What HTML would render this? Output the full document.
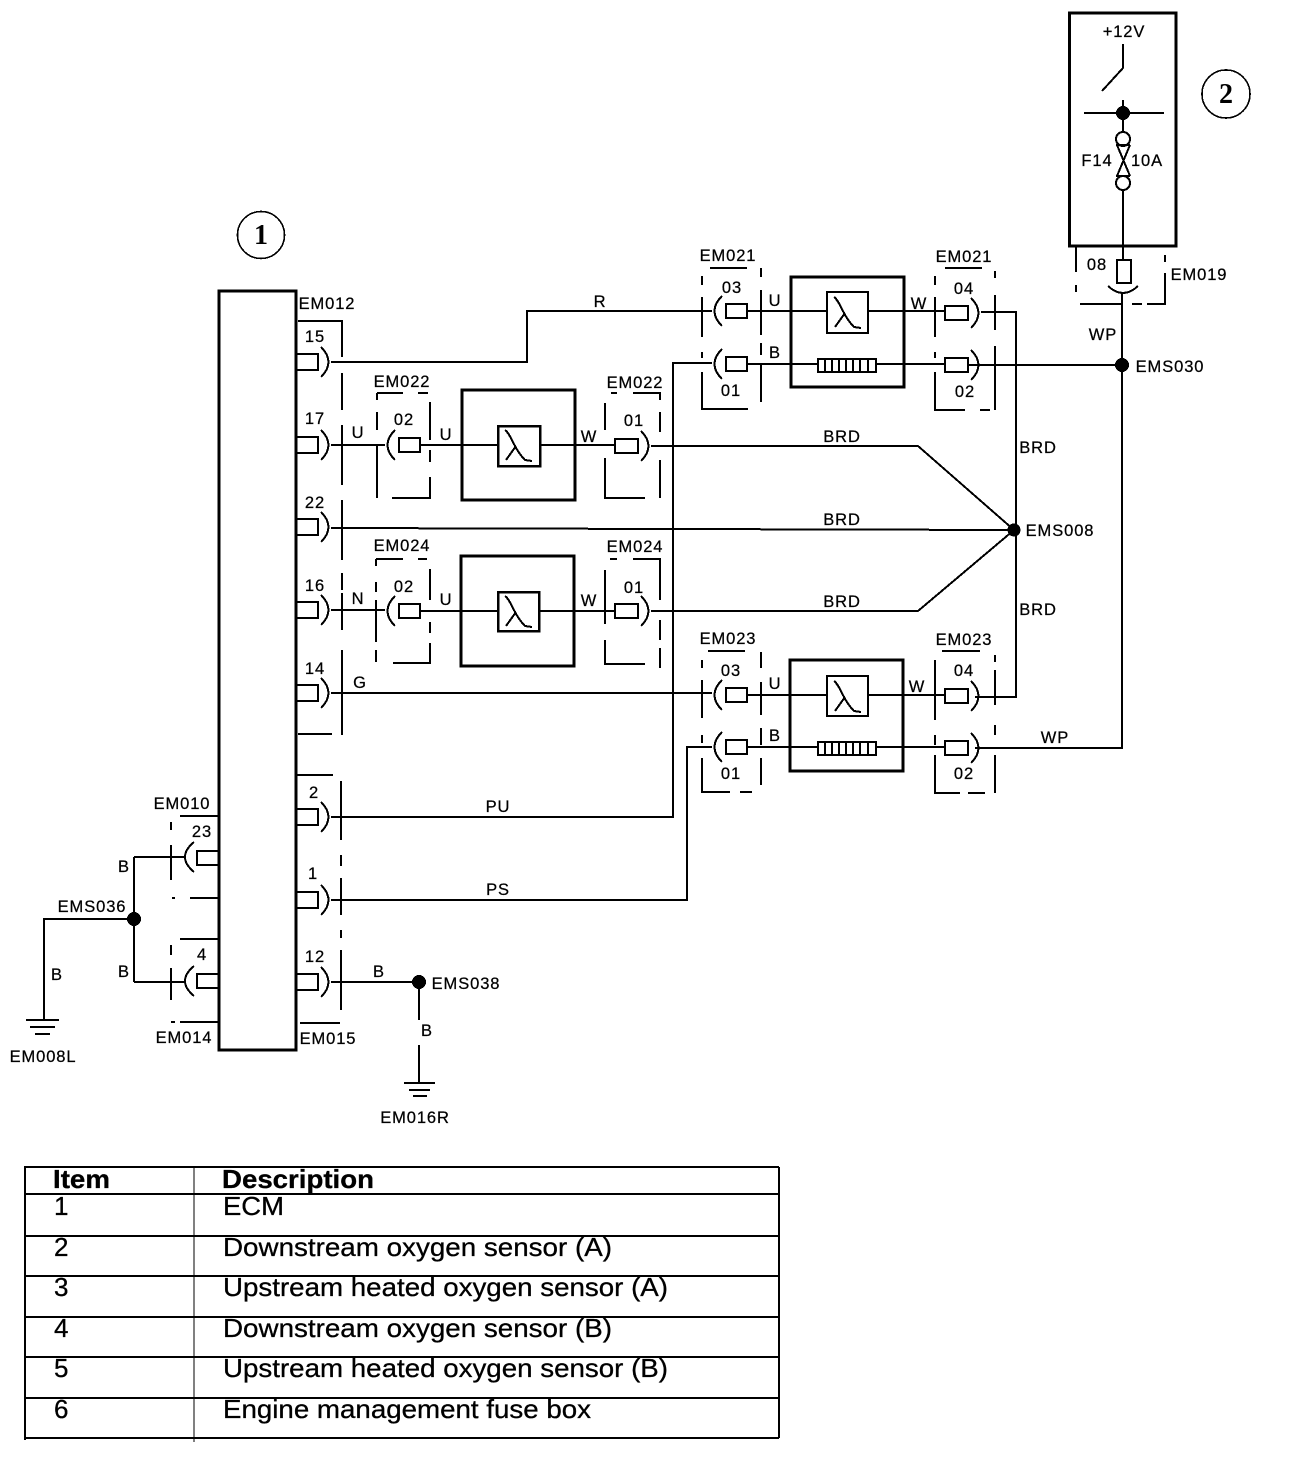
<!DOCTYPE html>
<html><head><meta charset="utf-8"><style>
html,body{margin:0;padding:0;background:#fff;width:1312px;height:1460px;overflow:hidden}
svg{display:block}
svg *{shape-rendering:crispEdges}
text{font-family:"Liberation Sans",sans-serif;fill:#000}
.l{font-size:16.5px;letter-spacing:.9px;text-anchor:middle;stroke:#000;stroke-width:.25px}
.t{font-size:26px;stroke:#000;stroke-width:.3px}
.b{font-size:26px;font-weight:bold;stroke:#000;stroke-width:.3px}
.c{font-family:"Liberation Serif",serif;font-size:28px;font-weight:bold;text-anchor:middle}
</style></head><body>
<svg width="1312" height="1460" viewBox="0 0 1312 1460" xmlns="http://www.w3.org/2000/svg">
<defs>
<g id="pr"><path d="M0 -8H21V8H0" fill="none" stroke="#000" stroke-width="2"/><path d="M24 -15Q39 0 24 15" fill="none" stroke="#000" stroke-width="2"/></g>
<g id="pl"><path d="M22 -15Q7 0 22 15" fill="none" stroke="#000" stroke-width="2"/><rect x="26" y="-7" width="21" height="14" fill="#fff" stroke="#000" stroke-width="2"/></g>
<g id="pe"><rect x="0" y="-7" width="23" height="14" fill="none" stroke="#000" stroke-width="2"/><path d="M26 -15Q41 0 26 15" fill="none" stroke="#000" stroke-width="2"/></g>
<g id="lam"><path d="M7 5C13 9 16 24 27 35L34 36M18 21L8 35" fill="none" stroke="#000" stroke-width="2"/></g>
<g id="heat"><rect x="0" y="-6" width="58" height="13" fill="#fff" stroke="#000" stroke-width="2"/><path d="M7 -6V7M14 -6V7M21 -6V7M28 -6V7M35 -6V7M42 -6V7M50 -6V7" stroke="#000" stroke-width="2" fill="none"/></g>
</defs>

<!-- ECM -->
<rect x="219" y="291" width="77" height="759" fill="#fff" stroke="#000" stroke-width="3"/>
<circle cx="261" cy="235" r="23.5" fill="#fff" stroke="#000" stroke-width="1.6"/>
<text class="c" x="261" y="244">1</text>

<!-- Wires -->
<g fill="none" stroke="#000" stroke-width="2">
<path d="M331 362H527V311H712"/>
<path d="M331 445H385"/>
<path d="M420 445H497M540 445H615"/>
<path d="M651 446H918L1014 530"/>
<path d="M331 528L1014 530"/>
<path d="M331 610H385M420 611H497M539 611H615"/>
<path d="M651 611H918L1014 530"/>
<path d="M331 693H712"/>
<path d="M331 817H673V363H712"/>
<path d="M331 900H687V747H712"/>
<path d="M747 311H827M868 311H945M981 312H1016V697H975"/>
<path d="M747 364H818M876 364H945M968 365H1122"/>
<path d="M747 695H826M868 695H945"/>
<path d="M747 747H818M876 747H945M975 748H1122V294"/>
<path d="M134 857H184M134 857V982M134 982H184M44 1020V919H134"/>
<path d="M331 982H419V1020M419 1045V1083"/>
<path d="M26 1020H59M30 1027H55M35 1034H50M404 1083H435M409 1090H430M413 1096H427"/>
</g>

<!-- Dashed housings -->
<g fill="none" stroke="#000" stroke-width="2">
<path d="M298 321H342V357M342 373V410M342 425V485M342 500V560M342 573V590M342 593V630M342 650V735M298 734H332"/>
<path d="M296 775H333M341 781V840M341 855V866M341 878V915M341 930V938M341 950V1010M300 1023H340"/>
<path d="M180 816H218M171 822V830M171 845V880M172 898H175M190 898H218M180 939H218M171 945V955M171 968V1000M172 1021V1022H175M180 1022H218"/>
<path d="M377 393H403M418 393H428M377 393V400M377 412V430M377 445V498M392 498H430V477M430 462V450M430 402V440"/>
<path d="M611 393H617M633 393H660V400M660 412V432M660 460V498M605 403V430M605 458V492M605 478V498H645"/>
<path d="M376 559H403M418 559H427M376 559V566M376 582V592M376 600V642M376 650V662M393 663H430V643M430 633V622M430 569V600"/>
<path d="M610 559H617M633 559H660V600M660 620V640M660 648V668M605 570V624M605 640V664H645"/>
<path d="M710 268H747M761 268V277M761 290V335M761 343V355M761 365V402M702 276V285M702 297V337M702 352V358M702 372V409H745M720 409H748"/>
<path d="M945 268H982M995 271V278M995 295V330M995 346V410M935 276V285M935 297V337M935 352V358M935 372V410H965M980 410H990"/>
<path d="M708 651H745M761 652V668M761 682V715M761 728V745M761 758V785M702 660V668M702 680V718M702 735V743M702 758V792H730M740 792H752"/>
<path d="M942 651H980M995 655V662M995 670V705M995 725V735M995 755V793M935 660V720M935 735V745M935 755V793H960M968 793H985"/>
</g>

<!-- ECM pins -->
<use href="#pr" x="297" y="362"/><use href="#pr" x="297" y="445"/><use href="#pr" x="297" y="527"/><use href="#pr" x="297" y="610"/><use href="#pr" x="297" y="693"/><use href="#pr" x="297" y="817"/><use href="#pr" x="297" y="900"/><use href="#pr" x="297" y="982"/>
<g fill="none" stroke="#000" stroke-width="2"><path d="M218 851H197V865H218M218 974H197V988H218M194 842Q176 857 194 872M194 966Q176 981 194 996"/></g>

<!-- Sensor connectors -->
<use href="#pl" x="373" y="445"/><use href="#pe" x="615" y="446"/>
<use href="#pl" x="373" y="611"/><use href="#pe" x="615" y="611"/>
<use href="#pl" x="700" y="311"/><use href="#pl" x="700" y="364"/>
<use href="#pe" x="945" y="313"/><use href="#pe" x="945" y="365"/>
<use href="#pl" x="700" y="695"/><use href="#pl" x="700" y="747"/>
<use href="#pe" x="945" y="696"/><use href="#pe" x="945" y="748"/>

<!-- Sensor boxes -->
<g fill="none" stroke="#000" stroke-width="3">
<rect x="462" y="390" width="113" height="110"/><rect x="498" y="426" width="42" height="40" stroke-width="2.5"/>
<rect x="461" y="556" width="113" height="110"/><rect x="498" y="592" width="41" height="39" stroke-width="2.5"/>
<rect x="791" y="277" width="113" height="110"/><rect x="827" y="292" width="41" height="41" stroke-width="2"/>
<rect x="790" y="660" width="113" height="111"/><rect x="827" y="676" width="41" height="40" stroke-width="2"/>
</g>
<use href="#lam" x="498" y="425"/><use href="#lam" x="498" y="591"/><use href="#lam" x="827" y="292"/><use href="#lam" x="827" y="676"/>
<use href="#heat" x="818" y="365"/><use href="#heat" x="818" y="748"/>

<!-- Dots -->
<circle cx="1014" cy="530" r="6.5"/><circle cx="1122" cy="365" r="7"/><circle cx="134" cy="919" r="7"/><circle cx="419" cy="982" r="7"/>

<!-- Fuse box -->
<rect x="1069.500" y="13" width="106.500" height="233" fill="none" stroke="#000" stroke-width="3"/>
<circle cx="1226" cy="94" r="24" fill="#fff" stroke="#000" stroke-width="1.6"/>
<text class="c" x="1226" y="103">2</text>
<g fill="none" stroke="#000" stroke-width="2">
<path d="M1123 44V68L1102 91M1084 113H1164M1123 100V132M1117 145L1130 176M1130 145L1117 176M1116 145H1130M1116 176H1130M1123 190V260"/>
<circle cx="1123" cy="139" r="7"/><circle cx="1123" cy="183" r="7"/>
<rect x="1117" y="260" width="14" height="23"/>
<path d="M1108 286Q1123 300 1138 286"/>
<path d="M1076 247V272M1076 285V292M1080 304H1122M1132 304H1142M1147 304H1165V273M1165 255V262"/>
</g>
<circle cx="1123" cy="113" r="7"/>

<!-- Labels -->
<g>
<text class="l" x="1124" y="37">+12V</text><text class="l" x="1097" y="166">F14</text><text class="l" x="1147" y="166">10A</text>
<text class="l" x="1097" y="270">08</text><text class="l" x="1199" y="280">EM019</text><text class="l" x="1103" y="340">WP</text><text class="l" x="1170" y="372">EMS030</text>
<text class="l" x="327" y="309">EM012</text><text class="l" x="315" y="342">15</text><text class="l" x="315" y="424">17</text><text class="l" x="315" y="508">22</text><text class="l" x="315" y="591">16</text><text class="l" x="315" y="674">14</text><text class="l" x="314" y="798">2</text><text class="l" x="313" y="879">1</text><text class="l" x="315" y="962">12</text>
<text class="l" x="600" y="307">R</text>
<text class="l" x="402" y="387">EM022</text><text class="l" x="635" y="388">EM022</text><text class="l" x="404" y="425">02</text><text class="l" x="634" y="426">01</text>
<text class="l" x="358" y="438">U</text><text class="l" x="446" y="440">U</text><text class="l" x="589" y="442">W</text>
<text class="l" x="402" y="551">EM024</text><text class="l" x="635" y="552">EM024</text><text class="l" x="404" y="592">02</text><text class="l" x="634" y="593">01</text>
<text class="l" x="358" y="604">N</text><text class="l" x="446" y="605">U</text><text class="l" x="589" y="606">W</text>
<text class="l" x="360" y="688">G</text>
<text class="l" x="842" y="442">BRD</text><text class="l" x="842" y="525">BRD</text><text class="l" x="842" y="607">BRD</text>
<text class="l" x="1038" y="453">BRD</text><text class="l" x="1038" y="615">BRD</text><text class="l" x="1060" y="536">EMS008</text>
<text class="l" x="728" y="261">EM021</text><text class="l" x="964" y="262">EM021</text><text class="l" x="732" y="293">03</text><text class="l" x="731" y="396">01</text><text class="l" x="964" y="294">04</text><text class="l" x="965" y="397">02</text>
<text class="l" x="775" y="306">U</text><text class="l" x="775" y="358">B</text><text class="l" x="919" y="309">W</text>
<text class="l" x="728" y="644">EM023</text><text class="l" x="964" y="645">EM023</text><text class="l" x="731" y="676">03</text><text class="l" x="731" y="779">01</text><text class="l" x="964" y="676">04</text><text class="l" x="964" y="779">02</text>
<text class="l" x="775" y="689">U</text><text class="l" x="775" y="741">B</text><text class="l" x="917" y="692">W</text><text class="l" x="1055" y="743">WP</text>
<text class="l" x="498" y="812">PU</text><text class="l" x="498" y="895">PS</text>
<text class="l" x="182" y="809">EM010</text><text class="l" x="202" y="837">23</text><text class="l" x="92" y="912">EMS036</text><text class="l" x="202" y="960">4</text>
<text class="l" x="124" y="872">B</text><text class="l" x="124" y="977">B</text><text class="l" x="57" y="980">B</text>
<text class="l" x="184" y="1043">EM014</text><text class="l" x="328" y="1044">EM015</text><text class="l" x="43" y="1062">EM008L</text>
<text class="l" x="379" y="977">B</text><text class="l" x="466" y="989">EMS038</text><text class="l" x="427" y="1036">B</text><text class="l" x="415" y="1123">EM016R</text>
</g>

<!-- Table -->
<g fill="none" stroke="#000" stroke-width="2">
<path d="M25 1167H779M25 1194H779M25 1236H779M25 1276H779M25 1317H779M25 1357H779M25 1398H779M25 1438H779"/>
<path d="M25 1166V1440M779 1167V1438"/>
<path d="M194 1166V1442" stroke-width="1"/>
</g>
<text class="b" x="53" y="1188" textLength="57" lengthAdjust="spacingAndGlyphs">Item</text>
<text class="b" x="222" y="1188" textLength="152" lengthAdjust="spacingAndGlyphs">Description</text>
<text class="t" x="54" y="1215">1</text><text class="t" x="223" y="1215" textLength="61" lengthAdjust="spacingAndGlyphs">ECM</text>
<text class="t" x="54" y="1256">2</text><text class="t" x="223" y="1256" textLength="389" lengthAdjust="spacingAndGlyphs">Downstream oxygen sensor (A)</text>
<text class="t" x="54" y="1296">3</text><text class="t" x="223" y="1296" textLength="445" lengthAdjust="spacingAndGlyphs">Upstream heated oxygen sensor (A)</text>
<text class="t" x="54" y="1337">4</text><text class="t" x="223" y="1337" textLength="389" lengthAdjust="spacingAndGlyphs">Downstream oxygen sensor (B)</text>
<text class="t" x="54" y="1377">5</text><text class="t" x="223" y="1377" textLength="445" lengthAdjust="spacingAndGlyphs">Upstream heated oxygen sensor (B)</text>
<text class="t" x="54" y="1418">6</text><text class="t" x="223" y="1418" textLength="368" lengthAdjust="spacingAndGlyphs">Engine management fuse box</text>
</svg>
</body></html>
